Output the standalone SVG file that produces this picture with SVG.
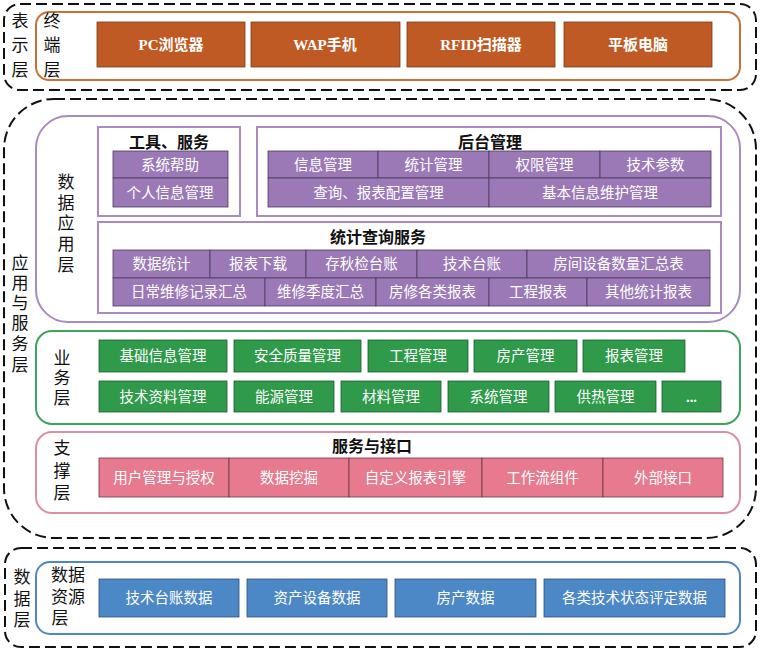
<svg xmlns="http://www.w3.org/2000/svg" width="760" height="650" viewBox="0 0 760 650">
<style>
text{font-family:"Liberation Serif","Noto Sans CJK SC",serif;dominant-baseline:central;text-anchor:middle}
.dash{fill:none;stroke:#111;stroke-width:2;stroke-dasharray:11 5}
.lbl{font-size:17px;fill:#111}
.ttl{font-size:16px;fill:#111;font-weight:bold}
.bt{font-size:14.5px;fill:#fff}
.or{fill:#BF5A24;stroke:#7a3a18;stroke-width:0.8}
.pu{fill:#9B79B6;stroke:#4a3a5a;stroke-width:0.8}
.gr{fill:#2E9A4A;stroke:#1f5a30;stroke-width:0.8}
.pk{fill:#E77A8E;stroke:#6a3a44;stroke-width:0.8}
.bl{fill:#4C87C6;stroke:#2f4f78;stroke-width:0.8}
.sub{fill:#fff;stroke:#A88BC0;stroke-width:2}
</style>
<rect width="760" height="650" fill="#fff"/>

<g id="presentation-layer">
<rect class="dash" x="4" y="4" width="752" height="86" rx="16"/>
<text class="lbl" x="20" y="21">表</text><text class="lbl" x="20" y="45">示</text><text class="lbl" x="20" y="70">层</text>
<rect x="36" y="12" width="704" height="68" rx="13" fill="#fff" stroke="#C8723A" stroke-width="2"/>
<text class="lbl" x="52" y="21">终</text><text class="lbl" x="52" y="45">端</text><text class="lbl" x="52" y="70">层</text>
</g>
<g id="pc"><rect class="or" x="97" y="22" width="148" height="45"/><text class="bt" style="font-weight:bold;font-size:15px" x="171" y="45">PC浏览器</text></g>
<g id="wap"><rect class="or" x="251" y="22" width="149" height="45"/><text class="bt" style="font-weight:bold;font-size:15px" x="325" y="45">WAP手机</text></g>
<g id="rfid"><rect class="or" x="407" y="22" width="148" height="45"/><text class="bt" style="font-weight:bold;font-size:15px" x="481" y="45">RFID扫描器</text></g>
<g id="tablet"><rect class="or" x="564" y="22" width="148" height="45"/><text class="bt" style="font-weight:bold;font-size:15px" x="638" y="45">平板电脑</text></g>

<g id="app-service-layer">
<rect class="dash" x="4" y="99" width="752" height="439" rx="50"/>
<text class="lbl" x="20" y="263">应</text><text class="lbl" x="20" y="283">用</text><text class="lbl" x="20" y="303">与</text><text class="lbl" x="20" y="323">服</text><text class="lbl" x="20" y="344">务</text><text class="lbl" x="20" y="365">层</text>
</g>

<g id="data-app-layer">
<rect x="36" y="116" width="704" height="206" rx="32" fill="#fff" stroke="#A88BC0" stroke-width="2"/>
<text class="lbl" x="66" y="182">数</text><text class="lbl" x="66" y="203">据</text><text class="lbl" x="66" y="223">应</text><text class="lbl" x="66" y="244">用</text><text class="lbl" x="66" y="265">层</text>
</g>

<g id="tools">
<rect class="sub" x="98" y="127" width="142" height="89"/>
<text class="ttl" x="169" y="142">工具、服务</text>
<rect class="pu" x="113" y="151" width="115" height="27"/><text class="bt" x="170" y="164.5">系统帮助</text>
<rect class="pu" x="113" y="178" width="115" height="29"/><text class="bt" x="170" y="192.5">个人信息管理</text>
</g>

<g id="backend">
<rect class="sub" x="257" y="127" width="464" height="89"/>
<text class="ttl" x="490" y="142">后台管理</text>
<rect class="pu" x="268" y="151" width="110" height="27"/><text class="bt" x="323" y="164.5">信息管理</text>
<rect class="pu" x="378" y="151" width="111" height="27"/><text class="bt" x="433.5" y="164.5">统计管理</text>
<rect class="pu" x="489" y="151" width="111" height="27"/><text class="bt" x="544.5" y="164.5">权限管理</text>
<rect class="pu" x="600" y="151" width="111" height="27"/><text class="bt" x="655.5" y="164.5">技术参数</text>
<rect class="pu" x="268" y="178" width="221" height="29"/><text class="bt" x="378.5" y="192.5">查询、报表配置管理</text>
<rect class="pu" x="489" y="178" width="222" height="29"/><text class="bt" x="600" y="192.5">基本信息维护管理</text>
</g>

<g id="stats">
<rect class="sub" x="98" y="222" width="623" height="91"/>
<text class="ttl" x="378" y="237">统计查询服务</text>
<rect class="pu" x="113" y="250" width="97" height="28"/><text class="bt" x="161.5" y="264">数据统计</text>
<rect class="pu" x="210" y="250" width="96" height="28"/><text class="bt" x="258" y="264">报表下载</text>
<rect class="pu" x="306" y="250" width="111" height="28"/><text class="bt" x="361.5" y="264">存秋检台账</text>
<rect class="pu" x="417" y="250" width="110" height="28"/><text class="bt" x="472" y="264">技术台账</text>
<rect class="pu" x="527" y="250" width="183" height="28"/><text class="bt" x="618.5" y="264">房间设备数量汇总表</text>
<rect class="pu" x="113" y="278" width="152" height="28"/><text class="bt" x="189" y="292">日常维修记录汇总</text>
<rect class="pu" x="265" y="278" width="111" height="28"/><text class="bt" x="320.5" y="292">维修季度汇总</text>
<rect class="pu" x="376" y="278" width="113" height="28"/><text class="bt" x="432.5" y="292">房修各类报表</text>
<rect class="pu" x="489" y="278" width="98" height="28"/><text class="bt" x="538" y="292">工程报表</text>
<rect class="pu" x="587" y="278" width="123" height="28"/><text class="bt" x="648.5" y="292">其他统计报表</text>
</g>

<g id="business-layer">
<rect x="36" y="331" width="704" height="93" rx="16" fill="#fff" stroke="#3FA45C" stroke-width="2"/>
<text class="lbl" x="62" y="358">业</text><text class="lbl" x="62" y="378">务</text><text class="lbl" x="62" y="398">层</text>
<rect class="gr" x="99" y="340" width="128" height="32"/><text class="bt" x="163" y="356">基础信息管理</text>
<rect class="gr" x="234" y="340" width="127" height="32"/><text class="bt" x="297.5" y="356">安全质量管理</text>
<rect class="gr" x="368" y="340" width="100" height="32"/><text class="bt" x="418" y="356">工程管理</text>
<rect class="gr" x="474" y="340" width="103" height="32"/><text class="bt" x="525.5" y="356">房产管理</text>
<rect class="gr" x="583" y="340" width="102" height="32"/><text class="bt" x="634" y="356">报表管理</text>
<rect class="gr" x="99" y="381" width="128" height="31"/><text class="bt" x="163" y="396.5">技术资料管理</text>
<rect class="gr" x="234" y="381" width="100" height="31"/><text class="bt" x="284" y="396.5">能源管理</text>
<rect class="gr" x="341" y="381" width="100" height="31"/><text class="bt" x="391" y="396.5">材料管理</text>
<rect class="gr" x="448" y="381" width="101" height="31"/><text class="bt" x="498.5" y="396.5">系统管理</text>
<rect class="gr" x="555" y="381" width="101" height="31"/><text class="bt" x="605.5" y="396.5">供热管理</text>
<rect class="gr" x="662" y="381" width="59" height="31"/><text class="bt" style="font-weight:bold" x="691.5" y="396.5">...</text>
</g>

<g id="support-layer">
<rect x="36" y="432" width="704" height="81" rx="16" fill="#fff" stroke="#DD8FA2" stroke-width="2"/>
<text class="lbl" x="62" y="448">支</text><text class="lbl" x="62" y="471">撑</text><text class="lbl" x="62" y="493">层</text>
<text class="ttl" x="372" y="446">服务与接口</text>
<rect class="pk" x="99" y="458" width="130" height="39"/><text class="bt" x="164" y="477.5">用户管理与授权</text>
<rect class="pk" x="229" y="458" width="120" height="39"/><text class="bt" x="289" y="477.5">数据挖掘</text>
<rect class="pk" x="349" y="458" width="133" height="39"/><text class="bt" x="415.5" y="477.5">自定义报表引擎</text>
<rect class="pk" x="482" y="458" width="121" height="39"/><text class="bt" x="542.5" y="477.5">工作流组件</text>
<rect class="pk" x="603" y="458" width="120" height="39"/><text class="bt" x="663" y="477.5">外部接口</text>
</g>

<g id="data-layer">
<rect class="dash" x="5" y="548" width="751" height="99" rx="16"/>
<text class="lbl" x="22" y="577">数</text><text class="lbl" x="22" y="599">据</text><text class="lbl" x="22" y="620">层</text>
<rect x="36" y="562" width="704" height="72" rx="14" fill="#fff" stroke="#4F86C6" stroke-width="2"/>
<text class="lbl" x="68" y="575">数据</text><text class="lbl" x="68" y="597">资源</text><text class="lbl" x="60" y="618">层</text>
<rect class="bl" x="99" y="579" width="140" height="38"/><text class="bt" x="169" y="598">技术台账数据</text>
<rect class="bl" x="247" y="579" width="140" height="38"/><text class="bt" x="317" y="598">资产设备数据</text>
<rect class="bl" x="395" y="579" width="141" height="38"/><text class="bt" x="465.5" y="598">房产数据</text>
<rect class="bl" x="544" y="579" width="181" height="38"/><text class="bt" x="634.5" y="598">各类技术状态评定数据</text>
</g>
</svg>
